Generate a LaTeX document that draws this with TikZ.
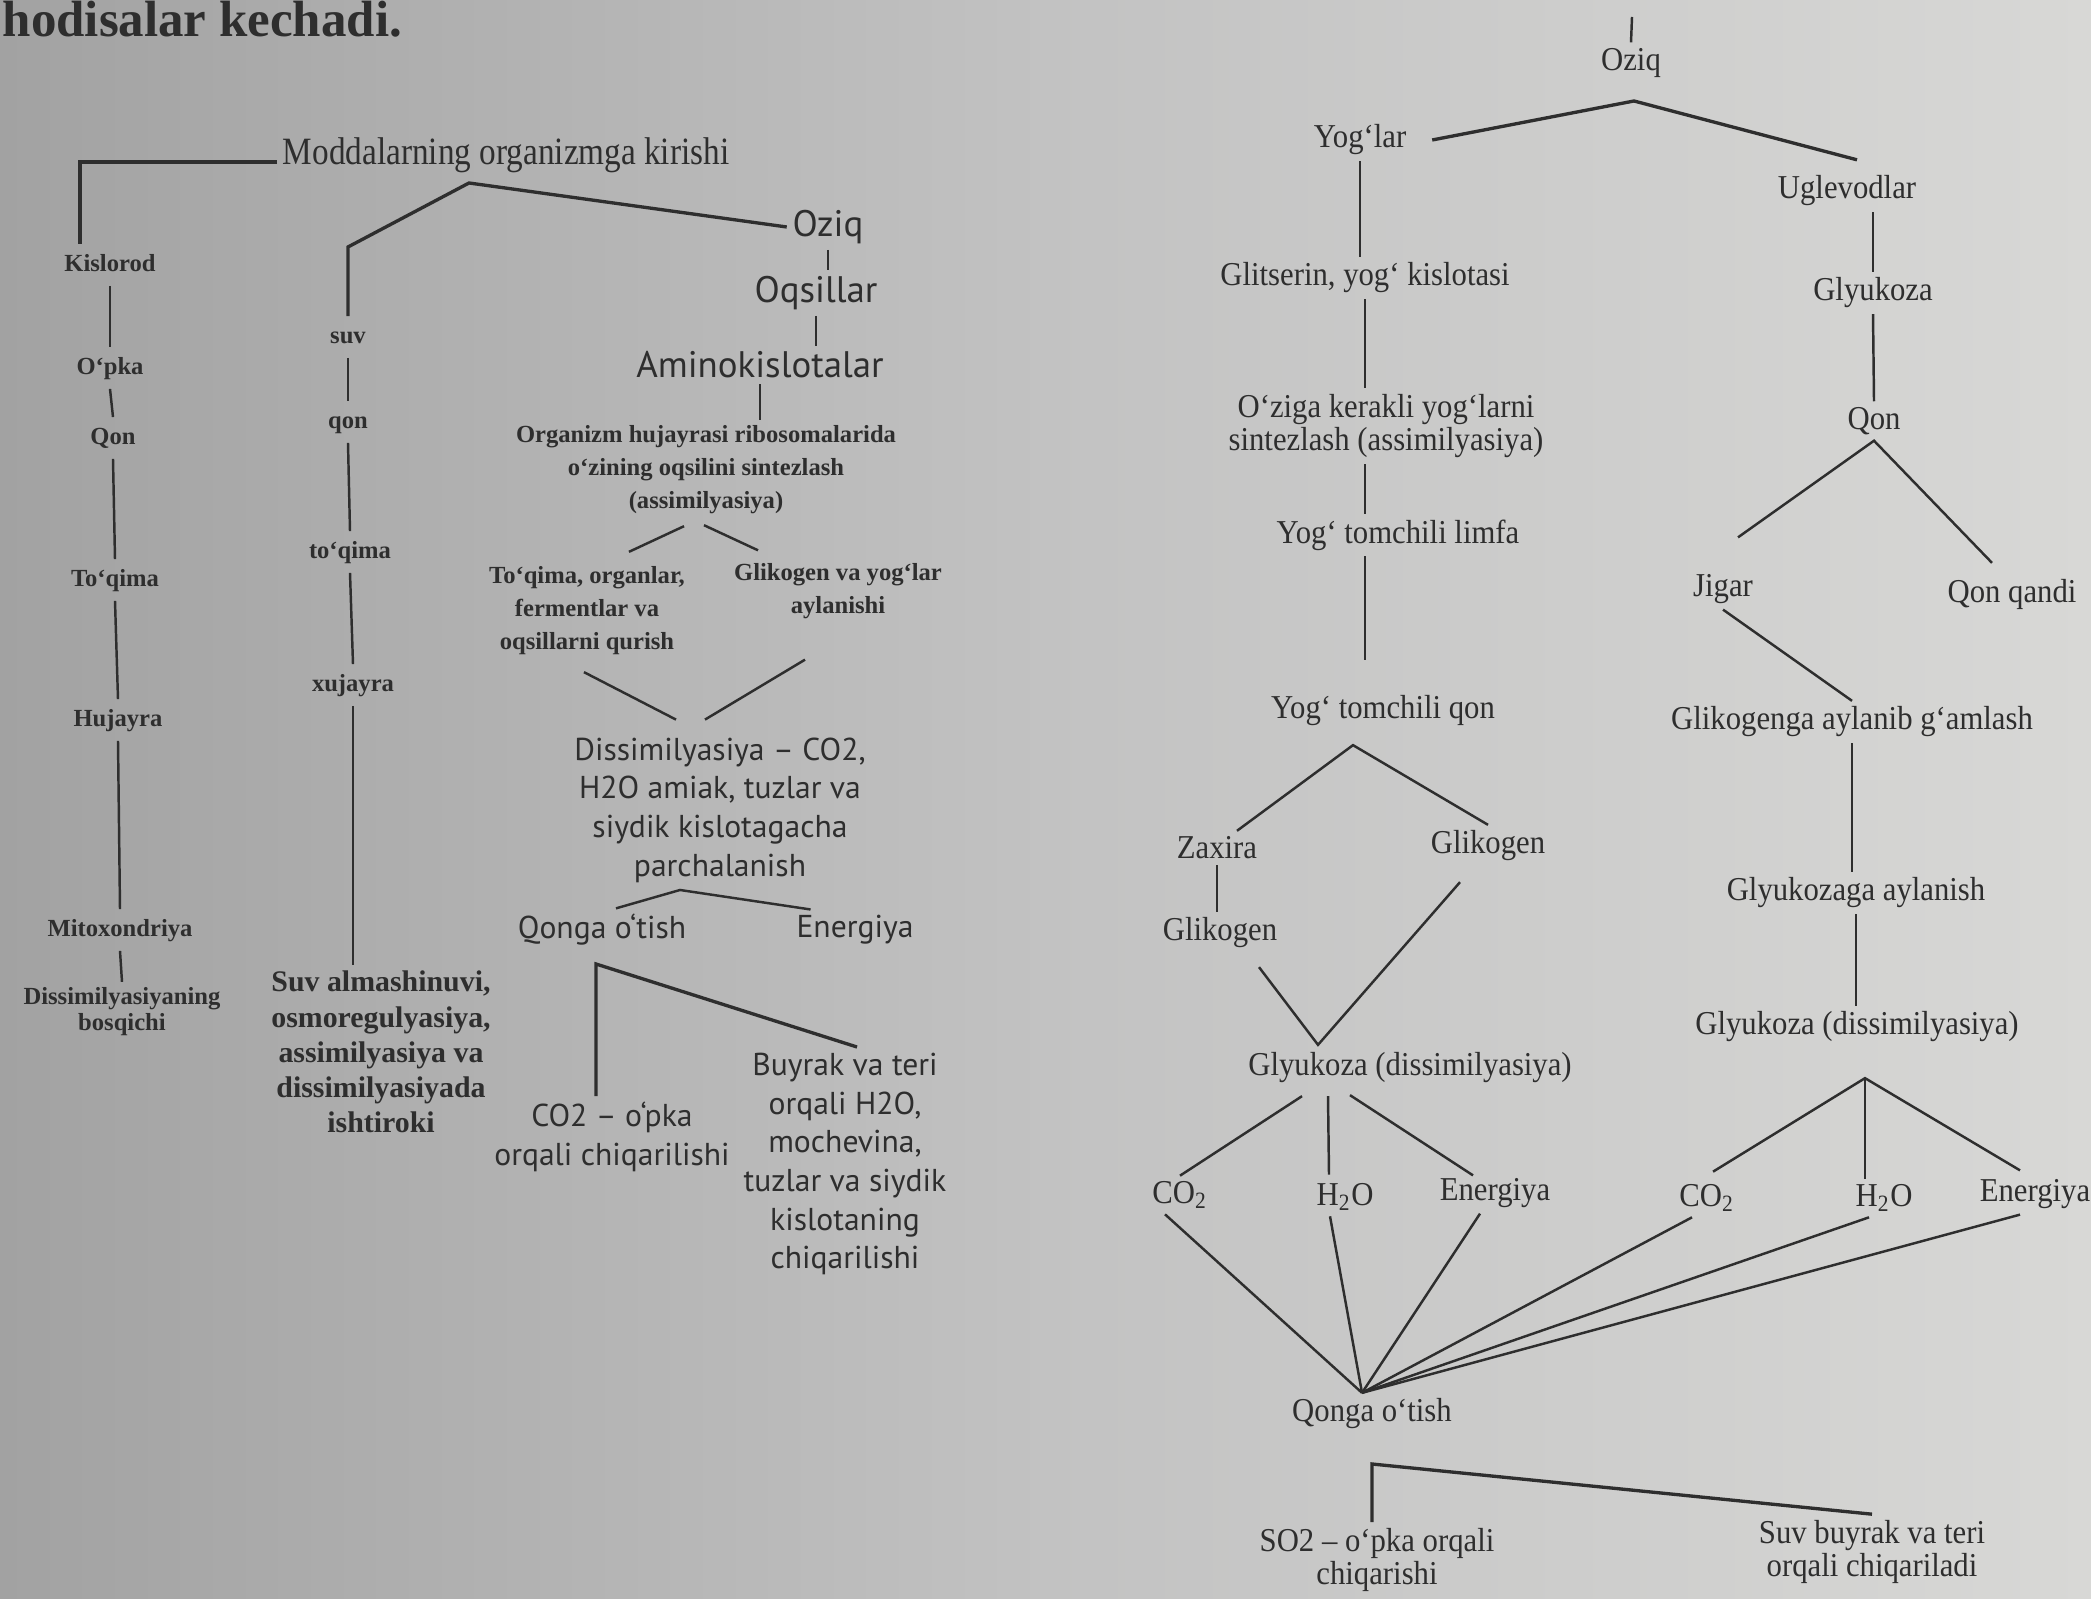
\documentclass[tikz,border=0pt]{standalone}
\usepackage{fontspec}
\setmainfont{Liberation Serif}
\newfontfamily\condfont[FakeStretch=0.86]{Liberation Serif}
\newfontfamily\narrowfont[FakeStretch=0.92]{Liberation Serif}
\newfontfamily\midfont{PT Sans}
\usetikzlibrary{positioning,calc}

\definecolor{ink}{HTML}{2E2E2E}
\definecolor{bgL}{HTML}{A2A2A2}
\definecolor{bgM}{HTML}{C2C2C2}
\definecolor{bgR}{HTML}{D8D8D6}

\begin{document}
\begin{tikzpicture}[x=0.1mm,y=-0.1mm,
  every node/.style={text=ink,inner sep=1.5pt,align=center},
  link/.style={draw=ink,line width=0.7pt},
  heavy/.style={draw=ink,line width=0.95pt},
  small/.style={font=\fontsize{7}{6.5}\selectfont\bfseries,text height=5pt,text depth=1.5pt,inner sep=2.5pt},
  smallblk/.style={font=\fontsize{8.5}{10}\selectfont\bfseries},
  tiny/.style={font=\fontsize{7}{9.4}\selectfont\bfseries},
  big/.style={font=\midfont\fontsize{10.5}{12}\selectfont},
  mid/.style={font=\midfont\fontsize{9}{11}\selectfont},
  rlab/.style={font=\narrowfont\fontsize{9.5}{9.5}\selectfont}]
\useasboundingbox (0,0) rectangle (2091,1599);
\shade[left color=bgL,right color=bgR,middle color=bgM] (0,0) rectangle (2091,1599);

\node[anchor=base west,inner sep=0pt,font=\fontsize{14.5}{15}\selectfont\bfseries] (hdr) at (2,37) {hodisalar kechadi.};

\node[anchor=west,font=\condfont\fontsize{11}{12}\selectfont] (modd) at (277,155) {Moddalarning organizmga kirishi};

\node[small] (kisl) at (110,265) {Kislorod};
\node[small] (opka) at (110,368) {O‘pka};
\node[small] (qonA) at (113,438) {Qon};
\node[small] (toqA) at (115,580) {To‘qima};
\node[small] (huj) at (118,720) {Hujayra};
\node[small] (mito) at (120,930) {Mitoxondriya};
\node[font=\fontsize{7}{6}\selectfont\bfseries] (disA) at (122,1012) {Dissimilyasiyaning\\bosqichi};

\draw[heavy] ([yshift=-0.7mm]modd.west) -| ([xshift=-3mm]kisl.north);
\draw[link] (kisl.south) -- (opka.north);
\draw[link] (opka.south) -- (qonA.north);
\draw[link] (qonA.south) -- (toqA.north);
\draw[link] (toqA.south) -- (huj.north);
\draw[link] (huj.south) -- (mito.north);
\draw[link] (mito.south) -- (disA.north);

\node[small] (suv) at (348,337) {suv};
\node[small] (qonB) at (348,422) {qon};
\node[small] (toqB) at (350,552) {to‘qima};
\node[small] (xuj) at (353,685) {xujayra};
\node[smallblk] (suvA) at (381,1052) {Suv almashinuvi,\\osmoregulyasiya,\\assimilyasiya va\\dissimilyasiyada\\ishtiroki};

\draw[link] (suv.south) -- (qonB.north);
\draw[link] (qonB.south) -- (toqB.north);
\draw[link] (toqB.south) -- (xuj.north);
\draw[link] (xuj.south) -- (xuj.south |- suvA.north);

\node[big] (oziqA) at (828,227) {Oziq};
\node[big] (oqs) at (816,293) {Oqsillar};
\node[big] (amino) at (760,365) {Aminokislotalar};
\node[tiny] (org) at (706,470) {Organizm hujayrasi ribosomalarida\\o‘zining oqsilini sintezlash\\(assimilyasiya)};
\node[tiny] (tqo) at (587,611) {To‘qima, organlar,\\fermentlar va\\oqsillarni qurish};
\node[tiny] (glv) at (838,591) {Glikogen va yog‘lar\\aylanishi};
\node[mid] (dissB) at (720,810) {Dissimilyasiya – CO2,\\H2O amiak, tuzlar va\\siydik kislotagacha\\parchalanish};
\node[mid] (qongaA) at (602,930) {Qonga o‘tish};
\node[mid] (energA) at (855,930) {Energiya};
\node[mid] (co2A) at (612,1137) {CO2 – o‘pka\\orqali chiqarilishi};
\node[mid] (buyA) at (845,1164) {Buyrak va teri\\orqali H2O,\\mochevina,\\tuzlar va siydik\\kislotaning\\chiqarilishi};

\coordinate (bendA) at (356,247);
\coordinate (peakA) at (469,183);
\draw[heavy] (suv.north) -- (suv.north |- bendA) -- (peakA) -- (oziqA.west);
\draw[link] (oziqA.south) -- (oziqA.south |- oqs.north);
\draw[link] (oqs.south) -- (oqs.south |- amino.north);
\draw[link] (amino.south) -- (amino.south |- org.north);
\draw[link] ($(org.south)+(-22,6)$) -- ($(tqo.north)+(42,-9)$);
\draw[link] ($(org.south)+(-2,5)$) -- ($(glv.north)+(-80,-7)$);
\draw[link] ($(tqo.south)+(-3,11)$) -- ($(dissB.north)+(-44,-12)$);
\draw[link] ($(glv.south)+(-33,35)$) -- ($(dissB.north)+(-15,-12)$);

\coordinate (peakB) at (680,890);
\draw[link] ([xshift=1.4mm]qongaA.north) -- (peakB) -- ([xshift=2mm]energA.north west);
\coordinate (cnB) at (596,964);
\draw[heavy] (co2A.north -| cnB) -- (cnB) -- ([xshift=1.2mm]buyA.north);

\node[rlab] (oziqB) at (1631,63) {Oziq};
\coordinate (topR) at (1632,17);
\draw[link] (oziqB.north) -- (topR);
\node[rlab] (yogl) at (1360,140) {Yog‘lar};
\node[rlab] (ugl) at (1847,191) {Uglevodlar};
\coordinate (peakC) at (1634,101);
\draw[heavy] ([xshift=2mm]yogl.east) -- (peakC) -- ([xshift=1mm,yshift=1mm]ugl.north);

\node[rlab] (glits) at (1365,278) {Glitserin, yog‘ kislotasi};
\node[rlab,font=\narrowfont\fontsize{9.5}{8.5}\selectfont] (ozg) at (1386,426) {O‘ziga kerakli yog‘larni\\sintezlash (assimilyasiya)};
\node[rlab] (limfa) at (1398,535) {Yog‘ tomchili limfa};
\node[rlab] (qonY) at (1383,711) {Yog‘ tomchili qon};
\node[rlab] (zax) at (1217,848) {Zaxira};
\node[rlab] (glkR) at (1488,846) {Glikogen};
\node[rlab] (glkL) at (1220,933) {Glikogen};
\node[rlab] (glyL) at (1410,1068) {Glyukoza (dissimilyasiya)};
\node[rlab] (co2L) at (1180,1195) {CO\textsubscript{2}};
\node[rlab] (h2oL) at (1345,1197) {H\textsubscript{2}O};
\node[rlab] (enL) at (1495,1193) {Energiya};

\draw[link] (yogl.south) -- (yogl.south |- glits.north);
\draw[link] (glits.south) -- (glits.south |- ozg.north);
\draw[link] (ozg.south -| glits.south) -- (glits.south |- limfa.north);
\draw[link,shorten >=3mm] (limfa.south -| glits.south) -- (glits.south |- qonY.north);
\coordinate (peakD) at ($(qonY.south)+(-30,13)$);
\draw[link] ([xshift=2mm]zax.north) -- (peakD) -- (glkR.north);
\draw[link] (zax.south) -- (zax.south |- glkL.north);
\coordinate (vD) at ($(glyL.north)+(-92,-2)$);
\draw[link] ($(glkL.south)+(39,13)$) -- (vD) -- ($(glkR.south)+(-28,15)$);
\draw[link] ($(glyL.south)+(-108,7)$) -- (co2L.north);
\draw[link] ($(glyL.south)+(-82,7)$) -- ($(h2oL.north)+(-16,-3)$);
\draw[link] ($(glyL.south)+(-60,6)$) -- ($(enL.north)+(-22,3)$);

\node[rlab] (glyk) at (1873,293) {Glyukoza};
\node[rlab] (qonR) at (1874,421) {Qon};
\node[rlab] (jigar) at (1723,589) {Jigar};
\node[rlab] (qq) at (2012,594) {Qon qandi};
\node[rlab] (glikg) at (1852,722) {Glikogenga aylanib g‘amlash};
\node[rlab] (glyz) at (1856,893) {Glyukozaga aylanish};
\node[rlab] (glyR) at (1857,1027) {Glyukoza (dissimilyasiya)};
\node[rlab] (co2R) at (1707,1198) {CO\textsubscript{2}};
\node[rlab] (h2oR) at (1884,1198) {H\textsubscript{2}O};
\node[rlab] (enR) at (2035,1194) {Energiya};

\draw[link] (ugl.south -| glyk.north) -- (glyk.north);
\draw[link] (glyk.south) -- (qonR.north);
\draw[link] ($(jigar.north)+(15,-31)$) -- (qonR.south) -- ($(qq.north)+(-20,-10)$);
\draw[link] (jigar.south) -- (glikg.north);
\draw[link] (glikg.south) -- (glikg.south |- glyz.north);
\draw[link] (glyz.south) -- (glyz.south |- glyR.north);
\coordinate (pkR) at ($(glyR.south)+(8,30)$);
\draw[link] ($(co2R.north)+(6,-7)$) -- (pkR) -- ($(enR.north)+(-15,-3)$);
\draw[link] (pkR) -- (pkR |- h2oR.north);

\node[rlab] (qongaR) at (1372,1414) {Qonga o‘tish};
\foreach \n in {co2L,h2oL,enL,co2R,h2oR,enR}
  \draw[link] ([xshift=-1.5mm]\n.south) -- ([xshift=-1mm]qongaR.north);

\node[rlab] (so2) at (1377,1560) {SO2 – o‘pka orqali\\chiqarishi};
\node[rlab] (suvb) at (1872,1552) {Suv buyrak va teri\\orqali chiqariladi};
\coordinate (bendR) at (1372,1464);
\draw[heavy] (so2.north -| bendR) -- (bendR) -- (suvb.north);
\end{tikzpicture}
\end{document}
